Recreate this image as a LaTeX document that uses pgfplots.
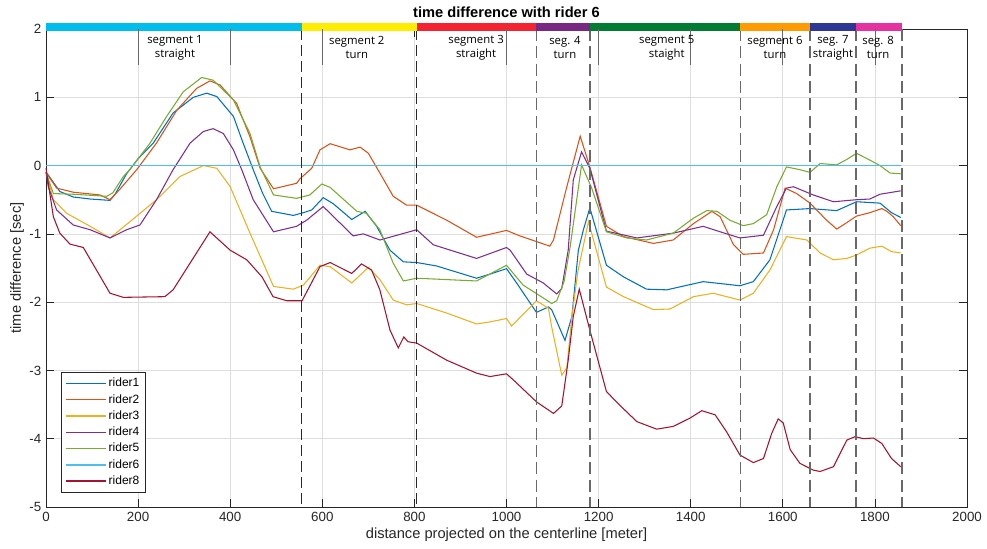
\documentclass[border=0pt]{standalone}
\usepackage{pgfplots}
\pgfplotsset{compat=1.18}
\usepackage{fontspec}
\setmainfont{Liberation Sans}
\newfontfamily\segfont{Open Sans}
\definecolor{c1}{RGB}{0,114,189}
\definecolor{c2}{RGB}{217,83,25}
\definecolor{c3}{RGB}{237,177,32}
\definecolor{c4}{RGB}{126,47,142}
\definecolor{c5}{RGB}{119,172,48}
\definecolor{c6}{RGB}{77,190,238}
\definecolor{c8}{RGB}{162,20,47}
\definecolor{s1}{RGB}{0,190,235}
\definecolor{s2}{RGB}{255,237,0}
\definecolor{s3}{RGB}{245,35,50}
\definecolor{s4}{RGB}{120,40,130}
\definecolor{s5}{RGB}{0,125,50}
\definecolor{s6}{RGB}{255,155,0}
\definecolor{s7}{RGB}{45,55,150}
\definecolor{s8}{RGB}{230,50,160}
\definecolor{axc}{RGB}{38,38,38}
\definecolor{dk}{RGB}{40,40,40}
\definecolor{md}{RGB}{105,105,105}
\definecolor{gr}{RGB}{222,222,222}
\begin{document}
\begin{tikzpicture}
\begin{axis}[
  scale only axis,
  width=690.75pt, height=358.5pt,
  xmin=0, xmax=2000, ymin=-5, ymax=2,
  xtick={0,200,...,2000}, ytick={-5,-4,...,2},
  grid=major,
  major grid style={draw=gr, line width=0.5pt},
  axis line style={draw=axc, line width=0.5pt},
  major tick style={draw=axc, line width=0.5pt},
  major tick length=6pt,
  tick align=inside,
  clip=false,
  /pgf/number format/assume math mode=true,
  /pgf/number format/set thousands separator={},
  tick label style={font=\fontsize{10}{12}\selectfont, text=axc},
  xlabel={distance projected on the centerline [meter]},
  ylabel={time difference [sec]},
  xlabel style={at={(axis description cs:0.5,-0.0586)}, anchor=center, font=\fontsize{11}{13}\selectfont, text=axc},
  ylabel style={at={(axis description cs:-0.0315,0.5)}, anchor=center, font=\fontsize{11}{13}\selectfont, text=axc},
  title={time difference with rider 6},
  title style={at={(axis description cs:0.5,1)}, anchor=center, yshift=6.8pt, font=\bfseries\fontsize{11}{13}\selectfont},
  legend style={at={(0.016,0.031)}, anchor=south west, draw=axc, line width=0.5pt, fill=white,
    font=\fontsize{9}{11}\selectfont, row sep=0pt,
    nodes={inner sep=1.6pt, text height=7pt, text depth=2pt}},
  legend cell align=left,
  legend image code/.code={\draw[#1, line width=1.1pt] (0pt,0pt) -- (30pt,0pt);},
  every axis plot/.append style={line width=0.8pt, mark=none},
]
\addplot[draw=c1] coordinates {
(0,-0.1)(5,-0.14)(30,-0.38)(59,-0.46)(96,-0.49)(139,-0.51)(150,-0.42)(175,-0.12)(200,0.1)
(233,0.33)(276,0.77)(320,1.00)(349,1.06)(371,1.01)(407,0.72)(428,0.33)(450,-0.06)(470,-0.40)
(490,-0.67)(537,-0.73)(559,-0.69)(577,-0.65)(602,-0.47)(624,-0.56)(664,-0.79)(693,-0.67)
(718,-0.89)(747,-1.24)(776,-1.41)(805,-1.42)(848,-1.47)(935,-1.65)(964,-1.59)(1000,-1.51)(1022,-1.72)
(1065,-2.15)(1091,-2.07)(1098,-2.11)(1127,-2.56)(1142,-2.21)(1156,-1.24)(1167,-0.94)(1181,-0.62)
(1217,-1.46)(1254,-1.63)(1304,-1.81)(1348,-1.82)(1427,-1.70)(1507,-1.76)(1536,-1.70)
(1572,-1.38)(1608,-0.65)(1659,-0.63)(1717,-0.66)(1760,-0.53)(1811,-0.55)(1836,-0.69)(1856,-0.76)
};
\addlegendentry{rider1}
\addplot[draw=c2] coordinates {
(0,-0.1)(23,-0.33)(59,-0.39)(117,-0.43)(139,-0.50)(160,-0.35)(197,-0.06)(240,0.33)(284,0.81)
(327,1.13)(356,1.24)(378,1.18)(414,0.91)(443,0.42)(465,-0.04)(494,-0.34)(544,-0.26)(552,-0.19)
(577,-0.04)(595,0.23)(617,0.32)(660,0.23)(682,0.27)(700,0.18)(725,-0.11)(754,-0.45)(783,-0.58)
(805,-0.58)(870,-0.80)(935,-1.05)(1000,-0.95)(1029,-1.03)(1094,-1.18)(1102,-1.09)(1131,-0.31)
(1160,0.43)(1181,-0.02)(1217,-0.89)(1254,-1.04)(1319,-1.14)(1362,-1.09)(1406,-0.85)(1446,-0.67)
(1464,-0.75)(1493,-1.16)(1514,-1.30)(1558,-1.28)(1580,-0.94)(1605,-0.33)(1630,-0.41)(1659,-0.55)
(1695,-0.80)(1717,-0.93)(1731,-0.87)(1760,-0.74)(1789,-0.69)(1815,-0.63)(1826,-0.67)(1840,-0.75)(1856,-0.88)
};
\addlegendentry{rider2}
\addplot[draw=c3] coordinates {
(0,-0.1)(16,-0.50)(45,-0.70)(96,-0.89)(139,-1.06)(179,-0.84)(240,-0.50)(291,-0.16)(342,0.00)
(371,-0.04)(400,-0.31)(443,-0.99)(494,-1.77)(537,-1.81)(559,-1.75)(595,-1.46)(617,-1.48)
(664,-1.72)(700,-1.49)(725,-1.67)(754,-1.97)(783,-2.04)(805,-2.02)(870,-2.16)(935,-2.32)
(964,-2.29)(1000,-2.24)(1011,-2.35)(1065,-1.98)(1091,-2.09)(1098,-2.36)(1120,-3.07)(1131,-2.96)(1142,-2.21)
(1155,-1.55)(1178,-0.82)(1217,-1.78)(1254,-1.92)(1319,-2.11)(1355,-2.10)(1406,-1.92)(1449,-1.87)
(1478,-1.92)(1507,-1.97)(1536,-1.87)(1572,-1.53)(1608,-1.04)(1652,-1.09)(1681,-1.28)(1710,-1.38)
(1739,-1.36)(1760,-1.31)(1789,-1.21)(1815,-1.18)(1836,-1.26)(1856,-1.28)
};
\addlegendentry{rider3}
\addplot[draw=c4] coordinates {
(0,-0.1)(5,-0.31)(23,-0.65)(59,-0.87)(96,-0.94)(139,-1.06)(175,-0.94)(204,-0.87)(240,-0.50)
(276,-0.06)(313,0.33)(342,0.50)(363,0.54)(385,0.47)(407,0.23)(425,-0.06)(450,-0.50)(494,-0.97)
(544,-0.89)(566,-0.80)(602,-0.60)(667,-1.03)(689,-1.00)(725,-1.09)(805,-0.94)(841,-1.16)
(935,-1.36)(1000,-1.20)(1008,-1.24)(1044,-1.59)(1080,-1.72)(1098,-1.82)(1109,-1.88)(1120,-1.80)(1134,-1.24)(1145,-0.21)(1163,0.20)
(1181,-0.04)(1217,-0.96)(1283,-1.06)(1362,-0.99)(1427,-0.89)(1464,-0.97)(1507,-1.06)(1558,-1.02)
(1587,-0.60)(1608,-0.33)(1623,-0.31)(1666,-0.43)(1710,-0.53)(1760,-0.50)(1789,-0.49)(1811,-0.42)(1856,-0.37)
};
\addlegendentry{rider4}
\addplot[draw=c5] coordinates {
(0,-0.1)(16,-0.41)(59,-0.42)(132,-0.45)(145,-0.40)(168,-0.16)(182,-0.06)(226,0.33)(262,0.72)
(298,1.08)(338,1.29)(363,1.25)(407,0.96)(443,0.47)(465,-0.02)(494,-0.43)(544,-0.48)(573,-0.43)
(599,-0.27)(617,-0.32)(675,-0.67)(696,-0.70)(725,-0.94)(754,-1.43)(776,-1.69)(805,-1.65)
(935,-1.69)(1000,-1.46)(1036,-1.75)(1087,-1.97)(1098,-2.02)(1109,-1.98)(1125,-1.70)(1138,-1.20)(1163,0.01)(1185,-0.33)
(1217,-0.97)(1261,-1.06)(1304,-1.09)(1362,-0.99)(1406,-0.77)(1435,-0.66)(1457,-0.67)(1485,-0.80)
(1514,-0.88)(1536,-0.85)(1565,-0.72)(1587,-0.31)(1608,-0.02)(1637,-0.06)(1659,-0.10)(1681,0.03)
(1717,0.01)(1739,0.09)(1760,0.18)(1789,0.08)(1811,0.00)(1833,-0.11)(1856,-0.12)
};
\addlegendentry{rider5}
\addplot[draw=c6, line width=1pt] coordinates {(0,0)(1856,0)};
\addlegendentry{rider6}
\addplot[draw=c8] coordinates {
(0,-0.04)(16,-0.75)(30,-0.99)(52,-1.15)(81,-1.20)(139,-1.87)(168,-1.93)(258,-1.92)(276,-1.82)
(356,-0.97)(400,-1.24)(436,-1.38)(469,-1.63)(493,-1.92)(523,-1.98)(556,-1.98)(595,-1.48)
(617,-1.42)(664,-1.58)(685,-1.44)(707,-1.53)(725,-1.82)(747,-2.41)(765,-2.67)(777,-2.51)
(786,-2.58)(805,-2.60)(870,-2.85)(935,-3.04)(964,-3.09)(1000,-3.05)(1015,-3.14)(1065,-3.46)(1102,-3.63)
(1120,-3.52)(1134,-2.85)(1145,-2.21)(1158,-1.81)(1181,-2.41)(1217,-3.31)
(1246,-3.51)(1283,-3.75)(1326,-3.86)(1362,-3.82)(1398,-3.70)(1424,-3.59)(1453,-3.65)(1478,-3.90)
(1507,-4.24)(1536,-4.35)(1558,-4.29)(1576,-3.92)(1590,-3.71)(1601,-3.77)(1616,-4.16)(1637,-4.36)
(1666,-4.46)(1681,-4.48)(1710,-4.41)(1739,-4.02)(1757,-3.97)(1775,-4.00)(1797,-3.99)(1815,-4.07)
(1836,-4.29)(1856,-4.41)
};
\addlegendentry{rider8}
% segment boundaries
\addplot[forget plot, draw=dk, line width=0.75pt, dash pattern=on 8pt off 4pt] coordinates {(555,2)(555,-5)};
\addplot[forget plot, draw=dk, line width=0.75pt, dash pattern=on 8pt off 4pt] coordinates {(805,2)(805,-5)};
\addplot[forget plot, draw=md, line width=1pt, dash pattern=on 9pt off 4pt] coordinates {(1065,2)(1065,-5)};
\addplot[forget plot, draw=md, line width=1pt, dash pattern=on 9pt off 4pt] coordinates {(1181,2)(1181,-5)};
\addplot[forget plot, draw=md, line width=1pt, dash pattern=on 9pt off 4pt] coordinates {(1508,2)(1508,-5)};
\addplot[forget plot, draw=md, line width=1pt, dash pattern=on 9pt off 4pt] coordinates {(1659,2)(1659,-5)};
\addplot[forget plot, draw=md, line width=1pt, dash pattern=on 9pt off 4pt] coordinates {(1759,2)(1759,-5)};
\addplot[forget plot, draw=md, line width=1pt, dash pattern=on 9pt off 4pt] coordinates {(1859,2)(1859,-5)};
% colored segment bar
\addplot[forget plot, draw=s1, line width=6pt] coordinates {(0,2.03)(555,2.03)};
\addplot[forget plot, draw=s2, line width=6pt] coordinates {(555,2.03)(805,2.03)};
\addplot[forget plot, draw=s3, line width=6pt] coordinates {(805,2.03)(1065,2.03)};
\addplot[forget plot, draw=s4, line width=6pt] coordinates {(1065,2.03)(1181,2.03)};
\addplot[forget plot, draw=s5, line width=6pt] coordinates {(1181,2.03)(1508,2.03)};
\addplot[forget plot, draw=s6, line width=6pt] coordinates {(1508,2.03)(1659,2.03)};
\addplot[forget plot, draw=s7, line width=6pt] coordinates {(1659,2.03)(1759,2.03)};
\addplot[forget plot, draw=s8, line width=6pt] coordinates {(1759,2.03)(1859,2.03)};
% dark grid stubs in label band
\addplot[forget plot, draw=md, line width=0.5pt] coordinates {(200,2)(200,1.47)};
\addplot[forget plot, draw=md, line width=0.5pt] coordinates {(400,2)(400,1.47)};
\addplot[forget plot, draw=md, line width=0.5pt] coordinates {(600,2)(600,1.47)};
\addplot[forget plot, draw=md, line width=0.5pt] coordinates {(1000,2)(1000,1.47)};
\addplot[forget plot, draw=md, line width=0.5pt] coordinates {(1200,2)(1200,1.47)};
\addplot[forget plot, draw=md, line width=0.5pt] coordinates {(1400,2)(1400,1.47)};
\addplot[forget plot, draw=md, line width=0.5pt] coordinates {(1600,2)(1600,1.47)};
\addplot[forget plot, draw=md, line width=0.5pt] coordinates {(1800,2)(1800,1.47)};
% segment labels
\node[align=center, font=\segfont\fontsize{8.5}{10.5}\selectfont, inner sep=1pt] at (axis cs:280,1.73) {segment 1\\straight};
\node[align=center, font=\segfont\fontsize{8.5}{10.5}\selectfont, inner sep=1pt] at (axis cs:675,1.73) {segment 2\\turn};
\node[align=center, font=\segfont\fontsize{8.5}{10.5}\selectfont, inner sep=1pt] at (axis cs:934,1.73) {segment 3\\straight};
\node[align=center, font=\segfont\fontsize{8.5}{10.5}\selectfont, inner sep=1pt] at (axis cs:1127,1.73) {seg. 4\\turn};
\node[align=center, font=\segfont\fontsize{8.5}{10.5}\selectfont, inner sep=1pt] at (axis cs:1348,1.73) {segment 5\\staight};
\node[align=center, font=\segfont\fontsize{8.5}{10.5}\selectfont, inner sep=1pt] at (axis cs:1583,1.73) {segment 6\\turn};
\node[align=center, font=\segfont\fontsize{8.5}{10.5}\selectfont, inner sep=1pt] at (axis cs:1709,1.73) {seg. 7\\straight};
\node[align=center, font=\segfont\fontsize{8.5}{10.5}\selectfont, inner sep=1pt] at (axis cs:1807,1.73) {seg. 8\\turn};
\end{axis}
\path (current axis.south west) ++(-34.5pt,-31.5pt) coordinate (bbA);
\path (current axis.north east) ++(15pt,21.75pt) coordinate (bbB);
\path (bbA) rectangle (bbB);
\end{tikzpicture}
\end{document}
